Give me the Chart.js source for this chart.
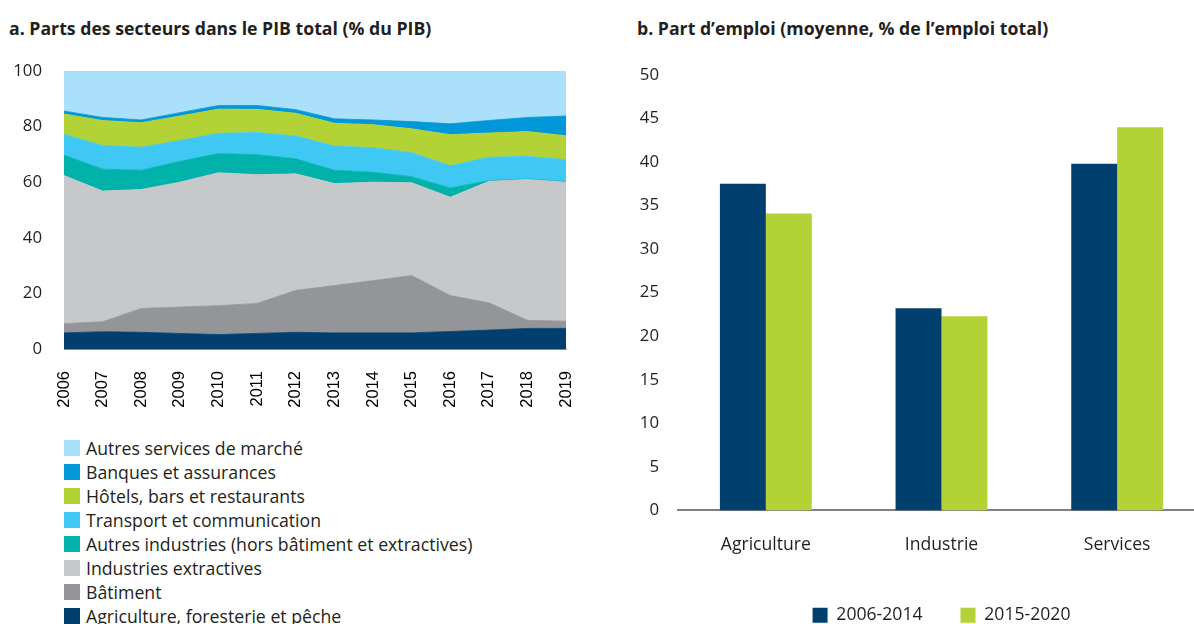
<!DOCTYPE html>
<html>
<head>
<meta charset="utf-8">
<script src="https://cdn.jsdelivr.net/npm/chart.js@4.4.1/dist/chart.umd.min.js"></script>
<style>
  html, body { margin: 0; padding: 0; background: #fff; width: 1194px; height: 624px; overflow: hidden; position: relative; font-family: "Open Sans", Lato, sans-serif; color: #231f20; }
  .title { position: absolute; top: 16px; font-weight: bold; font-size: 17.7px; white-space: nowrap; }
  #wa { position: absolute; left: 0; top: 0; width: 600px; height: 430px; }
  #wb { position: absolute; left: 600px; top: 0; width: 605px; height: 634px; }
  #legA { position: absolute; left: 64px; top: 436px; font-size: 17.7px; }
  #legA .it { height: 24px; display: flex; align-items: center; white-space: nowrap; }
  #legA .sw { width: 16px; height: 16px; margin-right: 6px; flex: none; }
</style>
</head>
<body>
<div class="title" style="left:9px;">a. Parts des secteurs dans le PIB total (% du PIB)</div>
<div class="title" style="left:637px;">b. Part d’emploi (moyenne, % de l’emploi total)</div>
<div id="wa"><canvas id="ca"></canvas></div>
<div id="wb"><canvas id="cb"></canvas></div>
<div id="legA"></div>
<script>
// ---- Panel a: sector shares of GDP (% of GDP), stacked from bottom ----
const years = ["2006","2007","2008","2009","2010","2011","2012","2013","2014","2015","2016","2017","2018","2019"];
const agriculture   = [5.8, 6.2, 6.0, 5.6, 5.2, 5.6, 6.0, 5.8, 5.8, 5.8, 6.3, 6.8, 7.4, 7.4];
const batiment      = [3.3, 3.6, 8.6, 9.5, 10.4, 10.8, 15.1, 17.0, 18.8, 20.6, 12.9, 9.8, 2.9, 2.6];
const extractives   = [53.3, 47.0, 42.8, 44.9, 47.8, 46.3, 41.9, 36.7, 35.4, 33.4, 35.4, 43.7, 50.7, 50.0];
const autresInd     = [7.3, 7.9, 6.9, 7.5, 6.9, 7.2, 5.4, 4.8, 3.6, 2.2, 3.3, 0.3, 0.2, 0.2];
const transport     = [7.5, 8.5, 8.3, 7.5, 7.3, 8.0, 8.2, 8.7, 8.8, 8.6, 8.0, 8.4, 8.1, 7.9];
const hotels        = [7.3, 9.0, 8.8, 8.8, 8.7, 8.3, 8.2, 8.2, 8.3, 8.6, 11.2, 8.7, 8.9, 8.6];
const banques       = [1.1, 1.1, 1.0, 1.2, 1.3, 1.4, 1.3, 1.6, 1.7, 2.6, 3.9, 4.5, 5.1, 7.1];
const autresServ    = [14.4, 16.7, 17.6, 15.0, 12.4, 12.4, 13.9, 17.2, 17.6, 18.2, 19.0, 17.8, 16.7, 16.2];
const yTicksA = [0, 20, 40, 60, 80, 100];

// ---- Panel b: employment share ----
const categoriesB = ["Agriculture", "Industrie", "Services"];
const emp2006_2014 = [37.5, 23.2, 39.8];
const emp2015_2020 = [34.1, 22.3, 44.0];
const yTicksB = [0, 5, 10, 15, 20, 25, 30, 35, 40, 45, 50];

Chart.defaults.font.family = "'Open Sans', Lato, sans-serif";
Chart.defaults.color = "#231f20";
Chart.defaults.animation = false;

const seriesA = [
  { label: "Agriculture, foresterie et pêche", data: agriculture, color: "#003f6e" },
  { label: "Bâtiment", data: batiment, color: "#939598" },
  { label: "Industries extractives", data: extractives, color: "#c7c8ca" },
  { label: "Autres industries (hors bâtiment et extractives)", data: autresInd, color: "#00b2a9" },
  { label: "Transport et communication", data: transport, color: "#40c8f4" },
  { label: "Hôtels, bars et restaurants", data: hotels, color: "#b2d235" },
  { label: "Banques et assurances", data: banques, color: "#0098d8" },
  { label: "Autres services de marché", data: autresServ, color: "#aae0fa" }
];

const chartA = new Chart(document.getElementById("ca"), {
  type: "line",
  data: {
    labels: years,
    datasets: seriesA.map((s, i) => ({
      label: s.label,
      data: s.data,
      backgroundColor: s.color,
      borderColor: s.color,
      borderWidth: 0.8,
      pointRadius: 0,
      tension: 0,
      fill: i === 0 ? "origin" : "-1"
    }))
  },
  options: {
    responsive: true,
    maintainAspectRatio: false,
    layout: { padding: { top: 71, right: 31, left: 0, bottom: 0 } },
    plugins: { legend: { display: false }, tooltip: { enabled: false } },
    scales: {
      x: {
        grid: { display: false },
        border: { display: true, color: "#8a8a8a", width: 1 },
        ticks: { minRotation: 90, maxRotation: 90, padding: 14, color: "#000",
                 font: { family: "'Liberation Sans', Arial, sans-serif", size: 16.5 } },
        afterFit: (sc) => { sc.height = 81; }
      },
      y: {
        stacked: true,
        min: 0, max: 100,
        afterBuildTicks: (sc) => { sc.ticks = yTicksA.map(v => ({ value: v })); },
        grid: { display: false },
        border: { display: false },
        ticks: { padding: 14, font: { size: 16.8 } },
        afterFit: (sc) => { sc.width = 64; }
      }
    }
  }
});

// HTML legend for panel a (top of stack first), built from the chart's datasets
const legA = document.getElementById("legA");
chartA.data.datasets.slice().reverse().forEach(ds => {
  const it = document.createElement("div");
  it.className = "it";
  const sw = document.createElement("span");
  sw.className = "sw";
  sw.style.background = ds.backgroundColor;
  const tx = document.createElement("span");
  tx.textContent = ds.label;
  it.appendChild(sw); it.appendChild(tx);
  legA.appendChild(it);
});

new Chart(document.getElementById("cb"), {
  type: "bar",
  data: {
    labels: categoriesB,
    datasets: [
      { label: "2006-2014", data: emp2006_2014, backgroundColor: "#003f6e" },
      { label: "2015-2020", data: emp2015_2020, backgroundColor: "#b2d235" }
    ]
  },
  options: {
    responsive: true,
    maintainAspectRatio: false,
    layout: { padding: { top: 75, right: 0, left: 0, bottom: 0 } },
    datasets: { bar: { categoryPercentage: 0.523, barPercentage: 1.0 } },
    plugins: {
      tooltip: { enabled: false },
      legend: {
        position: "bottom",
        fullSize: false,
        labels: { boxWidth: 15, boxHeight: 15, padding: 38, font: { size: 17.6 }, color: "#231f20" }
      }
    },
    scales: {
      x: {
        grid: { display: false },
        border: { display: true, color: "#808080", width: 2 },
        ticks: { padding: 16, font: { size: 17.6 } },
        afterFit: (sc) => { sc.height = 58; }
      },
      y: {
        min: 0, max: 50,
        afterBuildTicks: (sc) => { sc.ticks = yTicksB.map(v => ({ value: v })); },
        grid: { display: false },
        border: { display: false },
        ticks: { padding: 11, font: { size: 16.8 } },
        afterFit: (sc) => { sc.width = 78; }
      }
    }
  }
});
</script>
</body>
</html>
